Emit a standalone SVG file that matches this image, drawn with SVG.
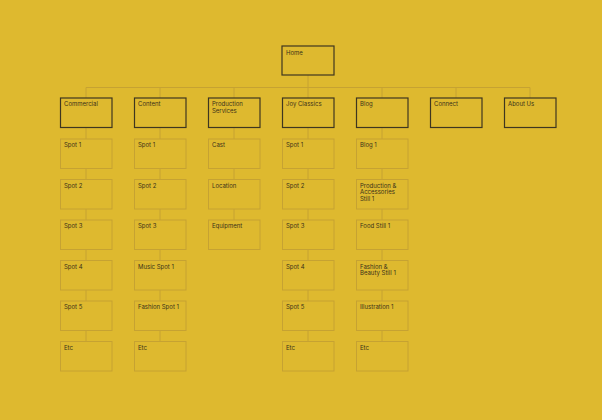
<svg xmlns="http://www.w3.org/2000/svg" width="602" height="420" viewBox="0 0 602 420">
<style>
.bg{fill:#DEB92F}
.top rect{fill:#DEB92F;stroke:#3E3620;stroke-width:1.2}
.sub rect{fill:#DEB92F;stroke:#C6A232;stroke-width:1}
text{font-family:Inter,"Liberation Sans",sans-serif;font-size:6px;fill:#3A3219}
.conn line{stroke:#C6A232;stroke-width:1}
</style>
<rect class="bg" x="0" y="0" width="602" height="420"/>
<g id="connectors" class="conn">
<line x1="308" y1="75" x2="308" y2="87.5"/>
<line x1="86" y1="87.5" x2="530" y2="87.5"/>
<line x1="86" y1="87.5" x2="86" y2="98"/>
<line x1="160" y1="87.5" x2="160" y2="98"/>
<line x1="234" y1="87.5" x2="234" y2="98"/>
<line x1="308" y1="87.5" x2="308" y2="98"/>
<line x1="382" y1="87.5" x2="382" y2="98"/>
<line x1="456" y1="87.5" x2="456" y2="98"/>
<line x1="530" y1="87.5" x2="530" y2="98"/>
<line x1="86" y1="128" x2="86" y2="341.5"/>
<line x1="160" y1="128" x2="160" y2="341.5"/>
<line x1="234" y1="128" x2="234" y2="220"/>
<line x1="308" y1="128" x2="308" y2="341.5"/>
<line x1="382" y1="128" x2="382" y2="341.5"/>
</g>
<g id="home" class="top"><rect x="282" y="46" width="52" height="29"/><text x="286" y="55">Home</text></g>
<g id="commercial" class="top"><rect x="60.5" y="98" width="51.5" height="29.5"/><text x="64" y="106">Commercial</text></g>
<g id="content" class="top"><rect x="134.5" y="98" width="51.5" height="29.5"/><text x="138" y="106">Content</text></g>
<g id="production" class="top"><rect x="208.5" y="98" width="51.5" height="29.5"/><text x="212" y="106">Production</text><text x="212" y="113">Services</text></g>
<g id="joy" class="top"><rect x="282.5" y="98" width="51.5" height="29.5"/><text x="286" y="106">Joy Classics</text></g>
<g id="blog" class="top"><rect x="356.5" y="98" width="51.5" height="29.5"/><text x="360" y="106">Blog</text></g>
<g id="connect" class="top"><rect x="430.5" y="98" width="51.5" height="29.5"/><text x="434" y="106">Connect</text></g>
<g id="about" class="top"><rect x="504.5" y="98" width="51.5" height="29.5"/><text x="508" y="106">About Us</text></g>

<g id="c-spot1" class="sub"><rect x="60.5" y="139" width="51.5" height="29.5"/><text x="64" y="147">Spot 1</text></g>
<g id="c-spot2" class="sub"><rect x="60.5" y="179.5" width="51.5" height="29.5"/><text x="64" y="187.5">Spot 2</text></g>
<g id="c-spot3" class="sub"><rect x="60.5" y="220" width="51.5" height="29.5"/><text x="64" y="228">Spot 3</text></g>
<g id="c-spot4" class="sub"><rect x="60.5" y="260.5" width="51.5" height="29.5"/><text x="64" y="268.5">Spot 4</text></g>
<g id="c-spot5" class="sub"><rect x="60.5" y="301" width="51.5" height="29.5"/><text x="64" y="309">Spot 5</text></g>
<g id="c-etc" class="sub"><rect x="60.5" y="341.5" width="51.5" height="29.5"/><text x="64" y="349.5">Etc</text></g>

<g id="ct-spot1" class="sub"><rect x="134.5" y="139" width="51.5" height="29.5"/><text x="138" y="147">Spot 1</text></g>
<g id="ct-spot2" class="sub"><rect x="134.5" y="179.5" width="51.5" height="29.5"/><text x="138" y="187.5">Spot 2</text></g>
<g id="ct-spot3" class="sub"><rect x="134.5" y="220" width="51.5" height="29.5"/><text x="138" y="228">Spot 3</text></g>
<g id="ct-music" class="sub"><rect x="134.5" y="260.5" width="51.5" height="29.5"/><text x="138" y="268.5">Music Spot 1</text></g>
<g id="ct-fashion" class="sub"><rect x="134.5" y="301" width="51.5" height="29.5"/><text x="138" y="309">Fashion Spot 1</text></g>
<g id="ct-etc" class="sub"><rect x="134.5" y="341.5" width="51.5" height="29.5"/><text x="138" y="349.5">Etc</text></g>

<g id="p-cast" class="sub"><rect x="208.5" y="139" width="51.5" height="29.5"/><text x="212" y="147">Cast</text></g>
<g id="p-location" class="sub"><rect x="208.5" y="179.5" width="51.5" height="29.5"/><text x="212" y="187.5">Location</text></g>
<g id="p-equipment" class="sub"><rect x="208.5" y="220" width="51.5" height="29.5"/><text x="212" y="228">Equipment</text></g>

<g id="j-spot1" class="sub"><rect x="282.5" y="139" width="51.5" height="29.5"/><text x="286" y="147">Spot 1</text></g>
<g id="j-spot2" class="sub"><rect x="282.5" y="179.5" width="51.5" height="29.5"/><text x="286" y="187.5">Spot 2</text></g>
<g id="j-spot3" class="sub"><rect x="282.5" y="220" width="51.5" height="29.5"/><text x="286" y="228">Spot 3</text></g>
<g id="j-spot4" class="sub"><rect x="282.5" y="260.5" width="51.5" height="29.5"/><text x="286" y="268.5">Spot 4</text></g>
<g id="j-spot5" class="sub"><rect x="282.5" y="301" width="51.5" height="29.5"/><text x="286" y="309">Spot 5</text></g>
<g id="j-etc" class="sub"><rect x="282.5" y="341.5" width="51.5" height="29.5"/><text x="286" y="349.5">Etc</text></g>

<g id="b-blog1" class="sub"><rect x="356.5" y="139" width="51.5" height="29.5"/><text x="360" y="147">Blog 1</text></g>
<g id="b-prod" class="sub"><rect x="356.5" y="179.5" width="51.5" height="29.5"/><text x="360" y="187.5">Production &amp;</text><text x="360" y="194.2">Accessories</text><text x="360" y="200.9">Still 1</text></g>
<g id="b-food" class="sub"><rect x="356.5" y="220" width="51.5" height="29.5"/><text x="360" y="228">Food Still 1</text></g>
<g id="b-fashion" class="sub"><rect x="356.5" y="260.5" width="51.5" height="29.5"/><text x="360" y="268.5">Fashion &amp;</text><text x="360" y="275.2">Beauty Still 1</text></g>
<g id="b-illus" class="sub"><rect x="356.5" y="301" width="51.5" height="29.5"/><text x="360" y="309">Illustration 1</text></g>
<g id="b-etc" class="sub"><rect x="356.5" y="341.5" width="51.5" height="29.5"/><text x="360" y="349.5">Etc</text></g>
</svg>
